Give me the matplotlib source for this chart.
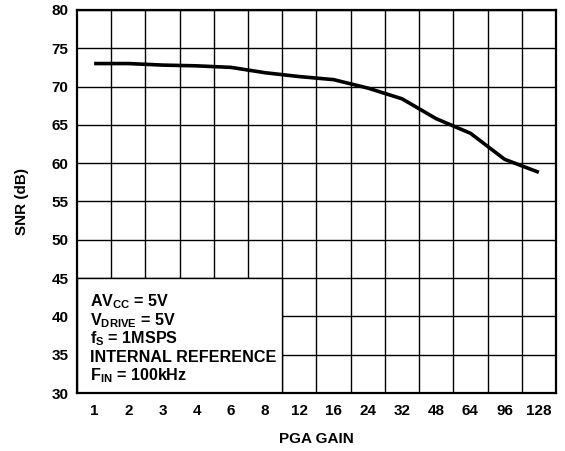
import matplotlib
matplotlib.use("Agg")
import matplotlib.pyplot as plt
from matplotlib.patches import Rectangle
import numpy as np

plt.rcParams['font.family'] = ['Liberation Sans', 'DejaVu Sans']
plt.rcParams['font.weight'] = 'bold'
plt.rcParams['mathtext.fontset'] = 'custom'
plt.rcParams['mathtext.rm'] = 'Liberation Sans:bold'
plt.rcParams['mathtext.it'] = 'Liberation Sans:bold'
plt.rcParams['mathtext.bf'] = 'Liberation Sans:bold'

# data
gain_labels = ["1", "2", "3", "4", "6", "8", "12", "16", "24", "32", "48", "64", "96", "128"]
snr_db = [73.0, 73.0, 72.8, 72.7, 72.5, 71.8, 71.3, 70.9, 69.8, 68.4, 65.8, 63.9, 60.5, 58.8]
y_ticks = [30, 35, 40, 45, 50, 55, 60, 65, 70, 75, 80]
notes = [r"AV$_{\rm CC}$ = 5V",
         r"V$_{\rm DRIVE}$ = 5V",
         r"f$_{\rm S}$ = 1MSPS",
         "INTERNAL REFERENCE",
         r"F$_{\rm IN}$ = 100kHz"]

fig = plt.figure(figsize=(5.65, 4.51), dpi=100)
ax = fig.add_axes([0.1363, 0.1286, 0.8477, 0.8494])

n = len(gain_labels)
x = np.arange(n) + 0.5
ax.plot(x, snr_db, color="black", lw=2.6, solid_capstyle="butt", zorder=4)

ax.set_xlim(0, n)
ax.set_ylim(30, 80)
ax.set_xticks(x)
ax.set_xticklabels(gain_labels)
ax.set_xticks(np.arange(1, n), minor=True)
ax.set_yticks(y_ticks)
ax.tick_params(axis="both", which="both", length=0, labelsize=11)
ax.tick_params(axis="x", pad=8)
ax.tick_params(axis="y", pad=6)
ax.grid(which="minor", axis="x", color="black", lw=1.0)
ax.grid(which="major", axis="y", color="black", lw=1.0)
ax.set_axisbelow(True)
for s in ax.spines.values():
    s.set_linewidth(1.6)
    s.set_zorder(6)

# condition box in lower left
ax.add_patch(Rectangle((0, 30), 6, 15, facecolor="white", edgecolor="black",
                       lw=1.0, zorder=3))
for i, t in enumerate(notes):
    ax.text(0.38, 41.3 - i * 2.42, t, fontsize=11.6, fontweight="bold",
            va="baseline", ha="left", zorder=5)

ax.set_xlabel("PGA GAIN", fontsize=11, fontweight="bold", labelpad=10)
ax.set_ylabel("SNR (dB)", fontsize=11, fontweight="bold", labelpad=16)

fig.savefig("out.png", dpi=100)
